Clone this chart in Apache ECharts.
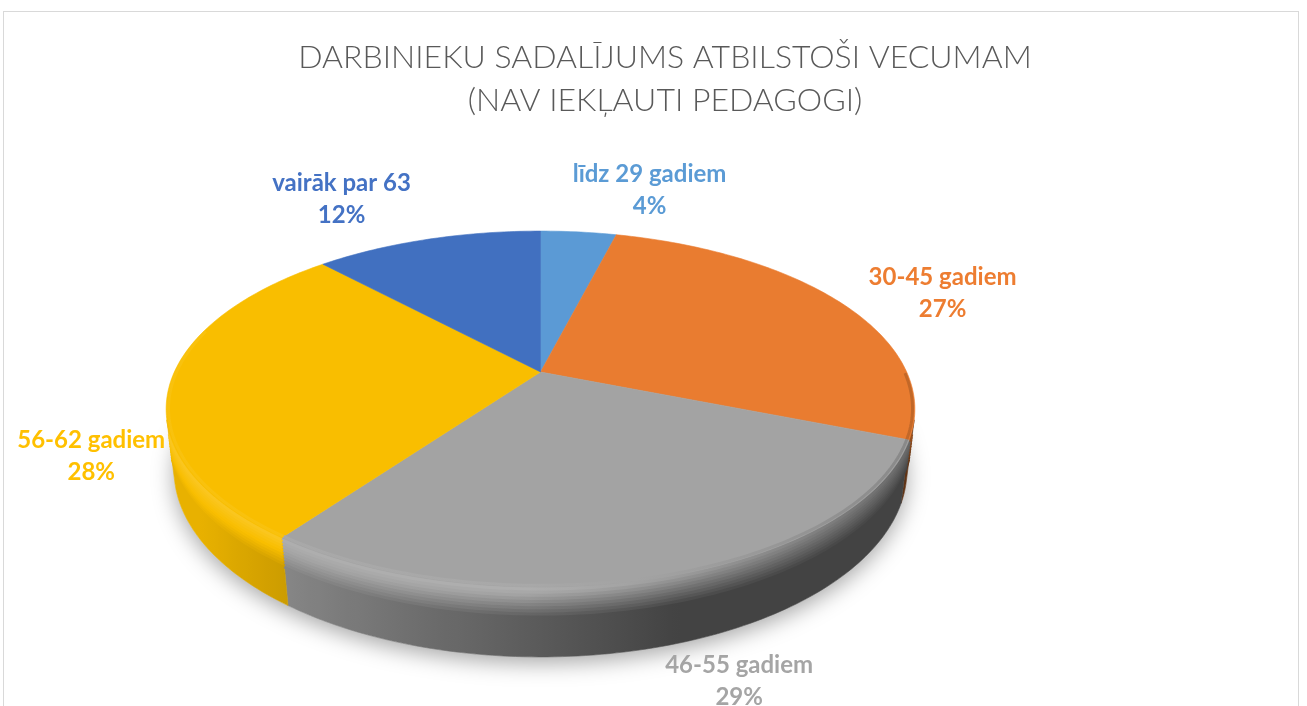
<!DOCTYPE html>
<html>
<head>
<meta charset="utf-8">
<title>Darbinieku sadalījums</title>
<script src="https://cdn.jsdelivr.net/npm/echarts@6/dist/echarts.min.js"></script>
<style>
  html, body { margin: 0; padding: 0; background: #fff; overflow: hidden; }
  #frame {
    position: absolute; left: 3px; top: 11px; width: 1296px; height: 720px;
    border: 1px solid #d9d9d9; box-sizing: border-box;
  }
  #chart { position: absolute; left: 0; top: 0; width: 1307px; height: 706px; }
</style>
</head>
<body>
<div id="frame"></div>
<div id="chart"></div>
<script>
// data
var categories = ['līdz 29 gadiem', '30-45 gadiem', '46-55 gadiem', '56-62 gadiem', 'vairāk par 63'];
var shares = [4, 27, 29, 28, 12];
var titleLines = ['DARBINIEKU SADALĪJUMS ATBILSTOŠI VECUMAM', '(NAV IEKĻAUTI PEDAGOGI)'];

// styles
var topColors = ['#5B9AD5', '#E97C30', '#A3A3A3', '#F9BE00', '#4170C0'];
var labelColors = ['#5B9BD5', '#ED7D31', '#A5A5A5', '#FFC000', '#4472C4'];
// label offset from the top-rim point at the middle of each slice
var labelShift = [[71, -42], [104, -8], [71, 105], [-79, 73], [-86, -40]];

// 3D view of the pie (perspective, tilted)
var CX = 540.5, CY = 372, F = 1558, D = 4.255;
var SIN_T = 0.465, COS_T = Math.sqrt(1 - SIN_T * SIN_T);
var H = 0.189;
var VIS = Math.acos(-1 / (D * COS_T)); // side visible between VIS and 2PI-VIS
var DEG = Math.PI / 180;

var total = shares.reduce(function (a, b) { return a + b; }, 0);
var starts = [];
(function () { var acc = 0; shares.forEach(function (v) { starts.push(acc); acc += v; }); })();

function project(theta, r, y) {
  var x = r * Math.sin(theta), z = -r * Math.cos(theta);
  var u = y * COS_T - z * SIN_T;
  var w = D - z * COS_T - y * SIN_T;
  return [CX + F * x / w, CY - F * u / w];
}

function hexRgb(hex) {
  return [parseInt(hex.substr(1, 2), 16), parseInt(hex.substr(3, 2), 16), parseInt(hex.substr(5, 2), 16)];
}
function shade(hex, f) {
  var c = hexRgb(hex).map(function (v) {
    var o = f <= 1 ? v * f : v + (255 - v) * (f - 1);
    return Math.max(0, Math.min(255, Math.round(o)));
  });
  return 'rgb(' + c.join(',') + ')';
}
function sideLight(theta) {
  var f = 0.55 + 0.47 * (-Math.sin(theta));
  return Math.max(0.41, Math.min(0.93, f));
}
function rimLight(theta) {
  var s = Math.sin(theta);
  return s > 0 ? 1.1 - 0.5 * s : 1.12;
}

// horizontal gradient sampled along the visible arc; light(theta) gives the shade factor
function arcGradient(base, light) {
  var xl = project(2 * Math.PI - VIS, 1, 0)[0], xr = project(VIS, 1, 0)[0];
  var stops = [];
  for (var d = 0; d <= 100; d++) {
    var t = 2 * Math.PI - VIS - (2 * Math.PI - 2 * VIS) * d / 100;
    var off = (project(t, 1, 0)[0] - xl) / (xr - xl);
    stops.push({ offset: Math.max(0, Math.min(1, off)), color: shade(base, light(t)) });
  }
  return new echarts.graphic.LinearGradient(xl, 0, xr, 0, stops, true);
}

function arc(t0, t1, r, y, step) {
  var n = Math.max(2, Math.ceil(Math.abs(t1 - t0) / step));
  var out = [];
  for (var k = 0; k <= n; k++) out.push(project(t0 + (t1 - t0) * k / n, r, y));
  return out;
}

function renderItem(params, api) {
  var i = params.dataIndex;
  var val = api.value(0);
  var a0 = starts[i] / total * 2 * Math.PI;
  var a1 = (starts[i] + val) / total * 2 * Math.PI;
  var base = topColors[i];
  var children = [];

  if (i === 0) {
    // soft shadow under the pie
    children.push({
      type: 'polygon', z2: 0, shape: { points: arc(0, 2 * Math.PI, 1, -H, 2 * DEG) },
      style: { fill: '#ffffff', shadowBlur: 22, shadowOffsetY: 6, shadowColor: 'rgba(0,0,0,0.35)' }
    });
  }

  // top face
  children.push({
    type: 'polygon', z2: 20,
    shape: { points: [project(0, 0, 0)].concat(arc(a0, a1, 1, 0, DEG)) },
    style: { fill: base, stroke: base, lineWidth: 0.6 }
  });

  // outer side, only the part facing the viewer
  var s0 = Math.max(a0, VIS), s1 = Math.min(a1, 2 * Math.PI - VIS);
  if (s1 > s0) {
    var side = arc(s0, s1, 1, 0, DEG).concat(arc(s1, s0, 1, -H, DEG));
    var grad = arcGradient(base, sideLight);
    children.push({
      type: 'polygon', z2: 10, shape: { points: side },
      style: { fill: grad, stroke: grad, lineWidth: 0.6 }
    });
    // rounded top edge of the side: bands blending rim colour into side colour
    var e0 = Math.max(s0, VIS + 4 * DEG), e1 = Math.min(s1, 2 * Math.PI - VIS - 4 * DEG);
    if (e1 > e0) {
      var nb = 10, dMax = 0.075;
      for (var b = nb - 1; b >= 0; b--) {
        var w = b / (nb - 1);
        children.push({
          type: 'polyline', z2: 12,
          shape: { points: arc(e0, e1, 1, -(0.004 + dMax * w), DEG) },
          style: {
            fill: 'none',
            stroke: arcGradient(base, function (t) { return rimLight(t) * (1 - w) + sideLight(t) * w; }),
            lineWidth: 4, lineCap: 'butt', lineJoin: 'round'
          }
        });
      }
    }
  }

  // rim highlight along the front edge of the top face
  var r0 = Math.max(a0, VIS - 15 * DEG), r1 = Math.min(a1, 2 * Math.PI - VIS + 30 * DEG);
  if (r1 > r0) {
    children.push({
      type: 'polyline', z2: 22,
      shape: { points: arc(r0, r1, 0.994, 0, DEG) },
      style: {
        fill: 'none',
        stroke: arcGradient(base, function (t) { return (rimLight(t) + 1) / 2; }),
        lineWidth: 3, opacity: 0.9, lineCap: 'butt'
      }
    });
  }

  // data label
  var mid = (a0 + a1) / 2;
  var anc = project(mid, 1, 0);
  children.push({
    type: 'text', z2: 30,
    x: anc[0] + labelShift[i][0], y: anc[1] + labelShift[i][1],
    style: {
      text: categories[i] + '\n' + Math.round(val / total * 100) + '%',
      fill: labelColors[i], font: 'bold 24px Lato, "Open Sans", sans-serif',
      align: 'center', verticalAlign: 'middle', lineHeight: 32
    }
  });

  return { type: 'group', children: children };
}

var chart = echarts.init(document.getElementById('chart'), null, { renderer: 'canvas' });
chart.setOption({
  animation: false,
  graphic: [{
    type: 'text', x: 665, y: 79,
    style: {
      text: titleLines.join('\n'),
      fill: '#595959', font: '300 32px Lato, "Open Sans", sans-serif',
      align: 'center', verticalAlign: 'middle', lineHeight: 43
    }
  }],
  series: [{
    type: 'custom',
    coordinateSystem: 'none',
    renderItem: renderItem,
    data: shares.map(function (v, i) { return { name: categories[i], value: v }; })
  }]
});
window.addEventListener('resize', function () { chart.resize(); });
</script>
</body>
</html>
